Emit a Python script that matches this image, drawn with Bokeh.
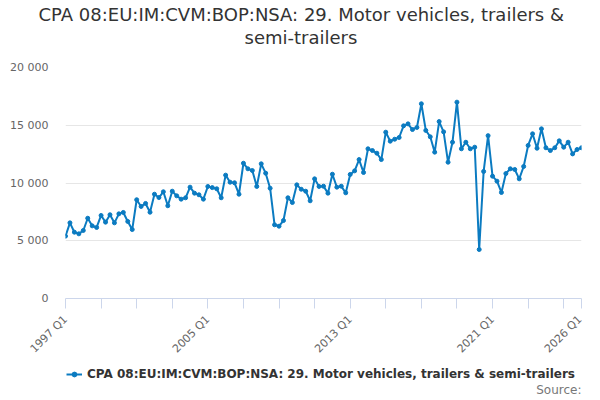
import math
from bokeh.plotting import figure
from bokeh.layouts import column
from bokeh.models import Range1d, FixedTicker, Legend, LegendItem, Title, ColumnDataSource, Label
from bokeh.embed import file_html
from bokeh.resources import INLINE

# ---- data ----
start_year = 1997
values = [
    5400, 6550, 5740, 5600,
    5890, 6950, 6290, 6150,
    7190, 6610, 7250, 6550,
    7330, 7450, 6670, 5970,
    8550, 7970, 8230, 7470,
    9030, 8740, 9240, 8030,
    9290, 8890, 8600, 8720,
    9640, 9120, 8980, 8600,
    9700, 9600, 9500, 8720,
    10680, 10070, 10020, 9030,
    11710, 11230, 11080, 9700,
    11660, 10850, 9550, 6380,
    6260, 6750, 8720, 8310,
    9840, 9460, 9290, 8460,
    10360, 9700, 9720, 9120,
    10760, 9640, 9720, 9150,
    10740, 11050, 12030, 10910,
    12960, 12810, 12580, 12030,
    14400, 13620, 13790, 13940,
    14950, 15120, 14630, 14810,
    16860, 14550, 14000, 12670,
    15320, 14430, 11800, 13530,
    17000, 12960, 13530, 12960,
    13100, 4240, 11000, 14100,
    10590, 10160, 9180, 10820,
    11230, 11170, 10360, 11430,
    13250, 14260, 13010, 14690,
    13050, 12810, 13050, 13650,
    13100, 13530, 12520, 12900,
    13050,
]
quarters = [f"{start_year + i // 4} Q{i % 4 + 1}" for i in range(len(values))]
labeled_quarters = ["1997 Q1", "2005 Q1", "2013 Q1", "2021 Q1", "2026 Q1"]
y_ticks = [0, 5000, 10000, 15000, 20000]
y_tick_labels = ["0", "5 000", "10 000", "15 000", "20 000"]
series_name = "CPA 08:EU:IM:CVM:BOP:NSA: 29. Motor vehicles, trailers & semi-trailers"
title_line1 = "CPA 08:EU:IM:CVM:BOP:NSA: 29. Motor vehicles, trailers &"
title_line2 = "semi-trailers"
credit = "Source:"

xs = list(range(len(values)))
src = ColumnDataSource(dict(x=xs, y=values, q=quarters))

FONT = "DejaVu Sans"
COLOR = "#0b7bc1"
LEFT, RIGHT = 65, 3
W = 584

p = figure(width=W, height=363, output_backend="svg", toolbar_location=None,
           x_range=Range1d(0, len(values) - 1), y_range=Range1d(0, 20000),
           min_border_left=LEFT, min_border_right=RIGHT, min_border_top=67, min_border_bottom=65)
p.outline_line_color = None
p.background_fill_color = "white"
p.border_fill_color = "white"

# titles: spacer nearest the frame, then line 2, then line 1 (centred on the canvas)
spacer = Title(text=" ", text_font=FONT, text_font_size="15px", standoff=0)
t2 = Title(text=title_line2, align="left", offset=179, text_font=FONT, text_font_size="18px",
           text_font_style="normal", text_color="#333333", standoff=0)
t1 = Title(text=title_line1, align="left", offset=-27, text_font=FONT, text_font_size="18px",
           text_font_style="normal", text_color="#333333", standoff=0)
p.add_layout(spacer, "above")
p.add_layout(t2, "above")
p.add_layout(t1, "above")

line = p.line("x", "y", source=src, line_color=COLOR, line_width=2)
pts = p.scatter("x", "y", source=src, size=4, fill_color=COLOR, line_color=COLOR)

# x axis
tick_idx = list(range(0, len(values), 8))
if tick_idx[-1] != len(values) - 1:
    tick_idx.append(len(values) - 1)
p.xaxis.ticker = FixedTicker(ticks=tick_idx)
p.xaxis.major_label_overrides = {i: (quarters[i] if quarters[i] in labeled_quarters else "") for i in tick_idx}
p.xaxis.major_label_orientation = math.pi / 4
p.xaxis.axis_line_color = "#ccd6eb"
p.xaxis.major_tick_line_color = "#ccd6eb"
p.xaxis.major_tick_out = 10
p.xaxis.major_tick_in = 0
p.xaxis.minor_tick_line_color = None
p.xaxis.major_label_text_font = FONT
p.xaxis.major_label_text_font_size = "11px"
p.xaxis.major_label_text_color = "#666666"
p.xaxis.major_label_standoff = 9
p.xgrid.grid_line_color = None

# y axis
p.yaxis.ticker = FixedTicker(ticks=y_ticks)
p.yaxis.major_label_overrides = dict(zip(y_ticks, y_tick_labels))
p.yaxis.axis_line_color = None
p.yaxis.major_tick_line_color = None
p.yaxis.major_tick_out = 0
p.yaxis.major_tick_in = 0
p.yaxis.minor_tick_line_color = None
p.yaxis.major_label_text_font = FONT
p.yaxis.major_label_text_font_size = "11px"
p.yaxis.major_label_text_color = "#666666"
p.yaxis.major_label_standoff = 17
p.ygrid.grid_line_color = "#e6e6e6"
p.ygrid.ticker = FixedTicker(ticks=y_ticks)

# ---- footer: legend + credit (series drawn out of view, only its legend shows) ----
f = figure(width=W, height=33, output_backend="svg", toolbar_location=None,
           x_range=Range1d(0, len(values) - 1), y_range=Range1d(-2, -1),
           x_axis_location=None, y_axis_location=None,
           min_border_left=LEFT, min_border_right=RIGHT, min_border_top=0, min_border_bottom=0)
f.outline_line_color = None
f.xgrid.grid_line_color = None
f.ygrid.grid_line_color = None
f.background_fill_color = "white"
f.border_fill_color = "white"
leg_line = f.line("x", "y", source=src, line_color=COLOR, line_width=2)
leg_pts = f.scatter("x", "y", source=src, size=4, fill_color=COLOR, line_color=COLOR)

legend = Legend(items=[LegendItem(label=series_name, renderers=[leg_line, leg_pts])],
                location=(1, 15), orientation="horizontal",
                label_text_font=FONT, label_text_font_size="12px",
                label_text_font_style="bold", label_text_color="#333333",
                glyph_width=16, glyph_height=12, label_standoff=5, padding=1, margin=0,
                border_line_color=None, background_fill_alpha=0)
f.add_layout(legend)

f.add_layout(Label(x=W - LEFT - RIGHT, y=0, x_units="screen", y_units="screen", text=credit,
                   text_align="right", text_baseline="bottom", text_font=FONT,
                   text_font_size="12px", text_color="#777777"))

layout = column(p, f, spacing=0)
open("out.html", "w").write(file_html(layout, INLINE))
